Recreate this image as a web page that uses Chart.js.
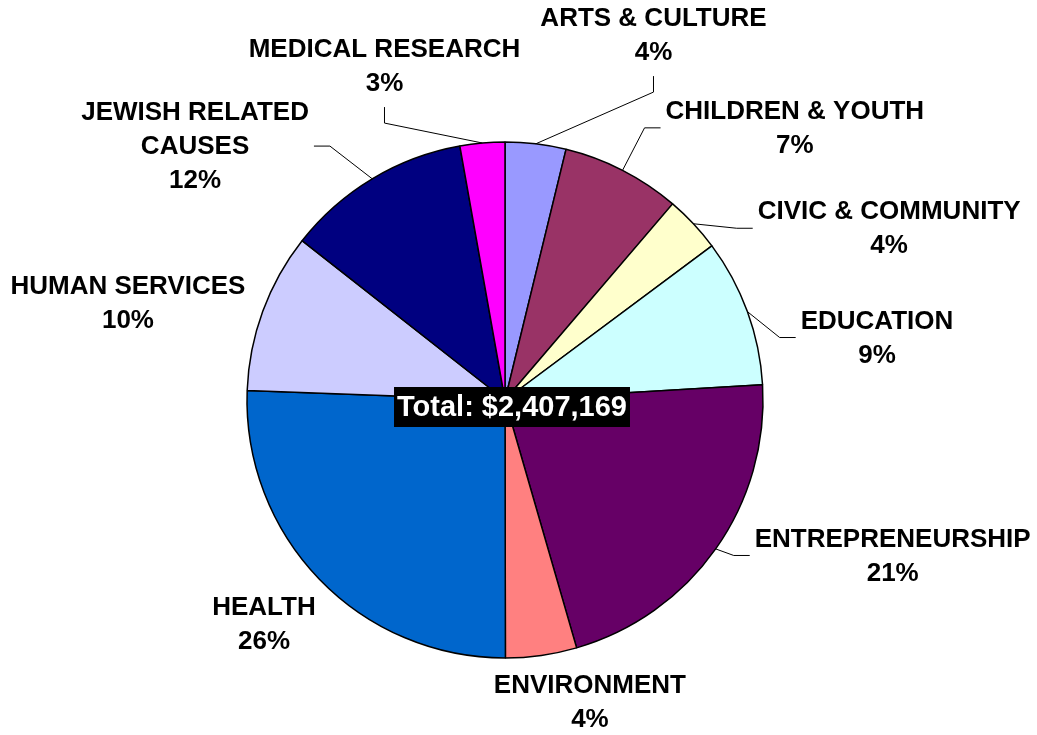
<!DOCTYPE html>
<html>
<head>
<meta charset="utf-8">
<script src="https://cdn.jsdelivr.net/npm/chart.js@4.4.0/dist/chart.umd.min.js"></script>
<style>
  html, body { margin: 0; padding: 0; background: #fff; }
  #wrap { width: 1037px; height: 735px; position: relative; }
</style>
</head>
<body>
<div id="wrap"><canvas id="pieChart"></canvas></div>
<script>
// Datos del grafico
const categories = [
  ["ARTS & CULTURE"],
  ["CHILDREN & YOUTH"],
  ["CIVIC & COMMUNITY"],
  ["EDUCATION"],
  ["ENTREPRENEURSHIP"],
  ["ENVIRONMENT"],
  ["HEALTH"],
  ["HUMAN SERVICES"],
  ["JEWISH RELATED", "CAUSES"],
  ["MEDICAL RESEARCH"],
];
const shares = [3.8, 7.45, 3.55, 9.25, 21.45, 4.45, 25.6, 10.0, 11.6, 2.8];
const totalText = "Total: $2,407,169";

const sliceColors = [
  "#9999FF", "#993366", "#FFFFCC", "#CCFFFF", "#660066",
  "#FF8080", "#0066CC", "#CCCCFF", "#000080", "#FF00FF",
];

// Colocacion de etiquetas: giro desde el centro del sector (grados),
// distancia al centro (x radio) y tipo de linea guia
const labelShift = [15.3, 19.7, 19.0, 10.5, -13.4, -7.6, 1.1, -5.7, -19.7, -14.8];
const labelDist = [1.527, 1.541, 1.631, 1.462, 1.619, 1.216, 1.275, 1.509, 1.553, 1.376];
const labelLeader = ["below", "side", "side", "side", "side", null, null, null, "side", "below"];

const outsideLabels = {
  id: "outsideLabels",
  afterDatasetsDraw(chart) {
    const ctx = chart.ctx;
    const arcs = chart.getDatasetMeta(0).data;
    const sum = shares.reduce((a, b) => a + b, 0);
    const lineH = 34;

    ctx.save();
    ctx.font = "bold 26px 'Liberation Sans', Arial, sans-serif";
    ctx.textAlign = "center";
    ctx.textBaseline = "middle";
    ctx.fillStyle = "#000";
    ctx.strokeStyle = "#000";
    ctx.lineWidth = 1;

    arcs.forEach((arc, i) => {
      const { x, y, startAngle, endAngle, outerRadius } = arc.getProps(
        ["x", "y", "startAngle", "endAngle", "outerRadius"], true
      );
      const mid = (startAngle + endAngle) / 2;
      const a = mid + (labelShift[i] * Math.PI) / 180;
      const cx = x + Math.cos(a) * outerRadius * labelDist[i];
      const cy = y + Math.sin(a) * outerRadius * labelDist[i];
      const lines = categories[i].concat(Math.round((shares[i] / sum) * 100) + "%");
      const top = cy - ((lines.length - 1) * lineH) / 2;

      lines.forEach((t, k) => ctx.fillText(t, cx, top + k * lineH + 1));

      if (labelLeader[i]) {
        const px = x + Math.cos(mid) * outerRadius;
        const py = y + Math.sin(mid) * outerRadius;
        ctx.beginPath();
        ctx.moveTo(px, py);
        if (labelLeader[i] === "side") {
          const halfW = Math.max(...lines.map((t) => ctx.measureText(t).width)) / 2;
          const dir = cx > px ? 1 : -1;
          const ex = cx - dir * (halfW + 5);
          ctx.lineTo(ex - dir * 16, cy);
          ctx.lineTo(ex, cy);
        } else {
          const ey = top + (lines.length - 1) * lineH + 24;
          ctx.lineTo(cx, ey + 16);
          ctx.lineTo(cx, ey);
        }
        ctx.stroke();
      }
    });

    // Caja del total
    const first = arcs[0];
    ctx.font = "bold 29px 'Liberation Sans', Arial, sans-serif";
    const tw = ctx.measureText(totalText).width;
    const bx = first.x + 7;
    const by = first.y + 7;
    ctx.fillStyle = "#000";
    ctx.fillRect(bx - tw / 2 - 3, by - 20, tw + 6, 40);
    ctx.fillStyle = "#fff";
    ctx.fillText(totalText, bx, by + 1);
    ctx.restore();
  },
};

new Chart(document.getElementById("pieChart"), {
  type: "pie",
  data: {
    labels: categories.map((c) => c.join(" ")),
    datasets: [
      {
        data: shares,
        backgroundColor: sliceColors,
        borderColor: "#000",
        borderWidth: 1.5,
        hoverOffset: 0,
      },
    ],
  },
  options: {
    responsive: true,
    maintainAspectRatio: false,
    animation: false,
    radius: 258,
    layout: {
      padding: { left: 0, right: 27, top: 65, bottom: 0 },
    },
    plugins: {
      legend: { display: false },
      tooltip: { enabled: false },
    },
  },
  plugins: [outsideLabels],
});
</script>
</body>
</html>
